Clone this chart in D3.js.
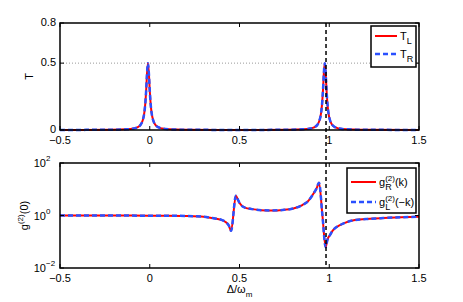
<!DOCTYPE html>
<html>
<head>
<meta charset="utf-8">
<script src="https://cdn.jsdelivr.net/npm/d3@7"></script>
<style>
  body { margin: 0; background: #fff; }
  text { font-family: "Liberation Sans", Arial, Helvetica, sans-serif; }
</style>
</head>
<body>
<div id="chart"></div>
<script>
// transmission T vs detuning
const tX = [-0.5, -0.21, -0.13, -0.09, -0.07, -0.05, -0.04, -0.03, -0.025, -0.02, -0.015, -0.01, -0.005, 0, 0.005, 0.01, 0.02, 0.03, 0.05, 0.07, 0.11, 0.19, 0.4, 0.6,
            0.775, 0.855, 0.895, 0.915, 0.935, 0.945, 0.955, 0.96, 0.965, 0.97, 0.975, 0.98, 0.985, 0.99, 0.995, 1.005, 1.015, 1.035, 1.055, 1.095, 1.175, 1.5];
const tL = [0.0005, 0.002, 0.005, 0.011, 0.019, 0.041, 0.069, 0.132, 0.195, 0.295, 0.426, 0.5, 0.426, 0.295, 0.195, 0.132, 0.069, 0.041, 0.019, 0.011, 0.005, 0.002, 0.0008, 0.0008,
            0.002, 0.005, 0.011, 0.019, 0.041, 0.069, 0.132, 0.195, 0.295, 0.426, 0.5, 0.426, 0.295, 0.195, 0.132, 0.069, 0.041, 0.019, 0.011, 0.005, 0.002, 0.0005];
const tR = tL.slice();

// second-order correlation g2(0)
const gX = [-0.5, -0.3, -0.1, 0.1, 0.2, 0.3, 0.35, 0.4, 0.42, 0.44, 0.453, 0.48, 0.49, 0.5, 0.53, 0.57, 0.62, 0.68, 0.74, 0.8, 0.85, 0.88, 0.91, 0.93, 0.943,
            0.962, 0.98, 0.99, 1.004, 1.02, 1.06, 1.08, 1.143, 1.227, 1.3, 1.4, 1.5];
const gR = [1.0, 1.0, 0.99, 0.98, 0.96, 0.9, 0.8, 0.68, 0.58, 0.42, 0.26, 5.7, 4.2, 3.0, 2.0, 1.75, 1.6, 1.55, 1.62, 1.85, 2.5, 3.4, 6.5, 11, 17.8,
            1.0, 0.062, 0.12, 0.18, 0.27, 0.43, 0.5, 0.67, 0.75, 0.8, 0.86, 0.9];
const gL = gR.slice();

const xTicks = [-0.5, 0, 0.5, 1, 1.5];
const tTicks = [0, 0.5, 0.8];
const gTicks = [-2, 0, 2]; // exponents of 10
const markerX = 0.982;

const W = 463, H = 302;
const left = 60, right = 419;
const top1 = 23, bot1 = 130, top2 = 163, bot2 = 268;
const red = "#ff0000", blue = "#2a50ff";

const svg = d3.select("#chart").append("svg").attr("width", W).attr("height", H);

const x = d3.scaleLinear().domain([-0.5, 1.5]).range([left, right]);
const yT = d3.scaleLinear().domain([0, 0.8]).range([bot1, top1]);
const yG = d3.scaleLog().domain([1e-2, 1e2]).range([bot2, top2]);

function frame(y0, y1, yScale, yTickVals) {
  const g = svg.append("g");
  g.append("rect").attr("x", left).attr("y", y0).attr("width", right - left).attr("height", y1 - y0)
    .attr("fill", "none").attr("stroke", "#000").attr("stroke-width", 1.5);
  xTicks.forEach(v => {
    g.append("line").attr("x1", x(v)).attr("x2", x(v)).attr("y1", y1).attr("y2", y1 - 4).attr("stroke", "#000");
    g.append("line").attr("x1", x(v)).attr("x2", x(v)).attr("y1", y0).attr("y2", y0 + 4).attr("stroke", "#000");
    g.append("text").attr("x", x(v)).attr("y", y1 + 14).attr("text-anchor", "middle")
      .attr("font-size", 11).text(v < 0 ? "\u2212" + Math.abs(v) : v);
  });
  yTickVals.forEach(v => {
    const yy = yScale(v);
    g.append("line").attr("x1", left).attr("x2", left + 4).attr("y1", yy).attr("y2", yy).attr("stroke", "#000");
    g.append("line").attr("x1", right).attr("x2", right - 4).attr("y1", yy).attr("y2", yy).attr("stroke", "#000");
  });
  return g;
}

// ---- top panel
svg.append("line").attr("x1", left).attr("x2", right).attr("y1", yT(0.5)).attr("y2", yT(0.5))
  .attr("stroke", "#999").attr("stroke-dasharray", "1,2");

const lineT = (ys) => d3.line().x((d, i) => x(tX[i])).y((d, i) => yT(ys[i])).curve(d3.curveMonotoneX)(ys);
svg.append("path").attr("d", lineT(tL)).attr("fill", "none").attr("stroke", red).attr("stroke-width", 2);
svg.append("path").attr("d", lineT(tR)).attr("fill", "none").attr("stroke", blue).attr("stroke-width", 2.5)
  .attr("stroke-dasharray", "5,3");

const f1 = frame(top1, bot1, yT, tTicks);
tTicks.forEach(v => {
  f1.append("text").attr("x", left - 4).attr("y", yT(v) + 3).attr("text-anchor", "end")
    .attr("font-size", 11).text(v);
});
svg.append("text").attr("transform", `translate(33,${(top1 + bot1) / 2}) rotate(-90)`)
  .attr("text-anchor", "middle").attr("font-size", 11).text("T");

// ---- bottom panel
const lineG = (ys) => d3.line().x((d, i) => x(gX[i])).y((d, i) => yG(ys[i])).curve(d3.curveMonotoneX)(ys);
svg.append("path").attr("d", lineG(gR)).attr("fill", "none").attr("stroke", red).attr("stroke-width", 2);
svg.append("path").attr("d", lineG(gL)).attr("fill", "none").attr("stroke", blue).attr("stroke-width", 2.5)
  .attr("stroke-dasharray", "5,3");

const f2 = frame(top2, bot2, v => yG(Math.pow(10, v)), gTicks);
gTicks.forEach(e => {
  f2.append("text").attr("x", left - 14).attr("y", yG(Math.pow(10, e)) + 4)
    .attr("text-anchor", "end").attr("font-size", 11).text("10");
  f2.append("text").attr("x", left - 14).attr("y", yG(Math.pow(10, e)) - 2)
    .attr("font-size", 8).text(e < 0 ? "\u2212" + Math.abs(e) : e);
});
const yl = svg.append("text").attr("transform", `translate(28,${(top2 + bot2) / 2}) rotate(-90)`)
  .attr("text-anchor", "middle").attr("font-size", 11);
yl.append("tspan").text("g");
yl.append("tspan").attr("font-size", 8).attr("dy", -5).text("(2)");
yl.append("tspan").attr("dy", 5).text("(0)");

const xl = svg.append("text").attr("x", (left + right) / 2).attr("y", 293).attr("text-anchor", "middle").attr("font-size", 11);
xl.append("tspan").text("\u0394/\u03c9");
xl.append("tspan").attr("font-size", 8).attr("dy", 4).text("m");

// vertical dashed marker across both panels
svg.append("line").attr("x1", x(markerX)).attr("x2", x(markerX)).attr("y1", top1).attr("y2", bot2)
  .attr("stroke", "#000").attr("stroke-width", 1.5).attr("stroke-dasharray", "4,3");

// ---- legends
// each label: base letter, optional superscript, optional subscript (stacked), trailing text
function legend(bx, by, bw, bh, rows) {
  const g = svg.append("g");
  g.append("rect").attr("x", bx).attr("y", by).attr("width", bw).attr("height", bh)
    .attr("fill", "#fff").attr("stroke", "#000").attr("stroke-width", 1.5);
  rows.forEach(r => {
    g.append("line").attr("x1", bx + 4).attr("x2", bx + r.len).attr("y1", r.y).attr("y2", r.y)
      .attr("stroke", r.color).attr("stroke-width", r.dash ? 2.5 : 2).attr("stroke-dasharray", r.dash || null);
    let cx = bx + r.len + 3;
    const base = g.append("text").attr("x", cx).attr("y", r.y + 4).attr("font-size", 11).text(r.base);
    cx += base.node().getComputedTextLength();
    let w = 0;
    if (r.sup) {
      const s = g.append("text").attr("x", cx).attr("y", r.y - 1).attr("font-size", 8).text(r.sup);
      w = Math.max(w, s.node().getComputedTextLength());
    }
    if (r.sub) {
      const s = g.append("text").attr("x", cx).attr("y", r.y + 8).attr("font-size", 9).text(r.sub);
      w = Math.max(w, s.node().getComputedTextLength());
    }
    cx += w;
    if (r.tail) g.append("text").attr("x", cx).attr("y", r.y + 4).attr("font-size", 11).text(r.tail);
  });
}
legend(371, 26, 45, 41, [
  { y: 36, color: red, len: 26, base: "T", sub: "L" },
  { y: 54, color: blue, dash: "5,3", len: 26, base: "T", sub: "R" }
]);
legend(347, 168, 69, 45, [
  { y: 182, color: red, len: 29, base: "g", sup: "(2)", sub: "R", tail: "(k)" },
  { y: 202, color: blue, dash: "5,3", len: 29, base: "g", sup: "(2)", sub: "L", tail: "(\u2212k)" }
]);
</script>
</body>
</html>
